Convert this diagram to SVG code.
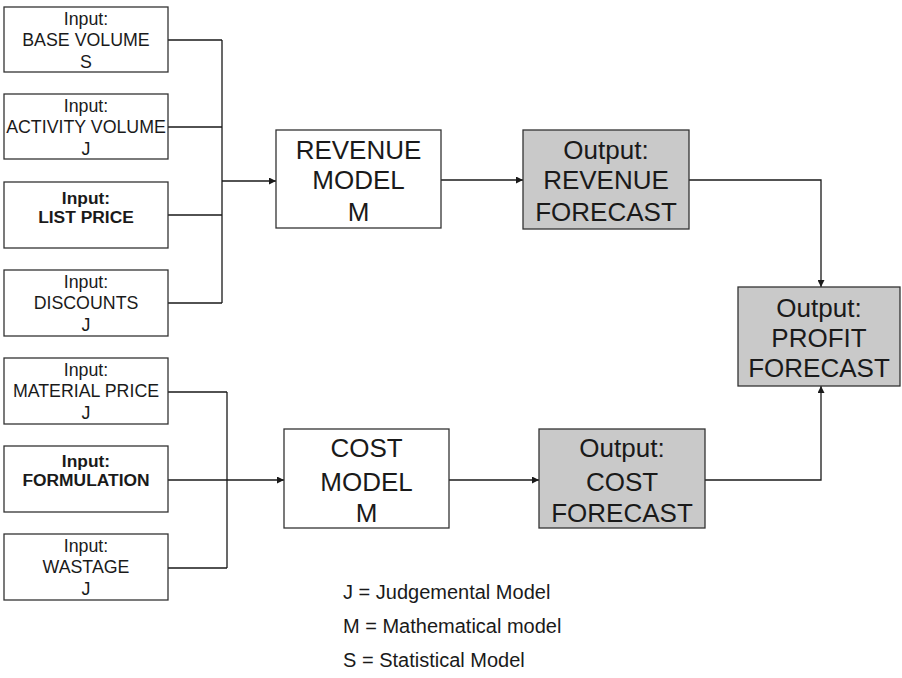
<svg xmlns="http://www.w3.org/2000/svg" width="902" height="678" viewBox="0 0 902 678">
  <style>
    .box { fill: #ffffff; stroke: #333333; stroke-width: 1.3; }
    .out { fill: #c9c9c9; stroke: #333333; stroke-width: 1.3; }
    .t { font-family: "Liberation Sans", Arial, sans-serif; fill: #1a1a1a; text-anchor: middle; }
    .sm { font-size: 17.8px; }
    .smb { font-size: 17.4px; font-weight: bold; }
    .lg { font-size: 26px; }
    .leg { font-family: "Liberation Sans", Arial, sans-serif; fill: #1a1a1a; font-size: 20px; }
    .wire { fill: none; stroke: #1a1a1a; stroke-width: 1.3; }
    .arr { marker-end: url(#head); }
  </style>
  <defs>
    <marker id="head" viewBox="0 0 10 10" refX="10" refY="5" markerWidth="9" markerHeight="7" markerUnits="userSpaceOnUse" orient="auto">
      <path d="M0,0 L10,5 L0,10 Z" fill="#1a1a1a"/>
    </marker>
  </defs>

  <g id="connectors">
    <!-- revenue inputs bus -->
    <path class="wire" d="M168,40 H222 M168,127 H222 M168,215 H222 M168,303 H222 M222,40 V303"/>
    <path class="wire arr" d="M222,181 H276" stroke-width="1.6"/>
    <!-- cost inputs bus -->
    <path class="wire" d="M168,392 H227 M168,568 H227 M227,392 V568"/>
    <path class="wire arr" d="M168,480 H284" stroke-width="1.4"/>
    <!-- models to outputs -->
    <path class="wire arr" d="M441,180 H523"/>
    <path class="wire arr" d="M449,480 H539"/>
    <!-- outputs to profit -->
    <path class="wire arr" d="M689,180 H821 V287"/>
    <path class="wire arr" d="M705,480 H821 V386"/>
  </g>

  <g id="in-base-volume">
    <rect class="box" x="4" y="7" width="164" height="65"/>
    <text class="t sm" x="86" y="25">Input:</text>
    <text class="t sm" x="86" y="46">BASE VOLUME</text>
    <text class="t sm" x="86" y="68">S</text>
  </g>
  <g id="in-activity-volume">
    <rect class="box" x="4" y="94" width="164" height="65"/>
    <text class="t sm" x="86" y="112">Input:</text>
    <text class="t sm" x="86" y="133">ACTIVITY VOLUME</text>
    <text class="t sm" x="86" y="155">J</text>
  </g>
  <g id="in-list-price">
    <rect class="box" x="4" y="182" width="164" height="66"/>
    <text class="t smb" x="86" y="204">Input:</text>
    <text class="t smb" x="86" y="223">LIST PRICE</text>
  </g>
  <g id="in-discounts">
    <rect class="box" x="4" y="270" width="164" height="66"/>
    <text class="t sm" x="86" y="288">Input:</text>
    <text class="t sm" x="86" y="309">DISCOUNTS</text>
    <text class="t sm" x="86" y="331">J</text>
  </g>
  <g id="in-material-price">
    <rect class="box" x="4" y="358" width="164" height="66"/>
    <text class="t sm" x="86" y="376">Input:</text>
    <text class="t sm" x="86" y="397">MATERIAL PRICE</text>
    <text class="t sm" x="86" y="419">J</text>
  </g>
  <g id="in-formulation">
    <rect class="box" x="4" y="446" width="164" height="66"/>
    <text class="t smb" x="86" y="467">Input:</text>
    <text class="t smb" x="86" y="486">FORMULATION</text>
  </g>
  <g id="in-wastage">
    <rect class="box" x="4" y="534" width="164" height="66"/>
    <text class="t sm" x="86" y="552">Input:</text>
    <text class="t sm" x="86" y="573">WASTAGE</text>
    <text class="t sm" x="86" y="595">J</text>
  </g>

  <g id="revenue-model">
    <rect class="box" x="276" y="130" width="165" height="98"/>
    <text class="t lg" x="358.5" y="159">REVENUE</text>
    <text class="t lg" x="358.5" y="189">MODEL</text>
    <text class="t lg" x="358.5" y="221">M</text>
  </g>
  <g id="revenue-forecast">
    <rect class="out" x="523" y="130" width="166" height="99"/>
    <text class="t lg" x="606" y="159">Output:</text>
    <text class="t lg" x="606" y="189">REVENUE</text>
    <text class="t lg" x="606" y="221">FORECAST</text>
  </g>
  <g id="profit-forecast">
    <rect class="out" x="738" y="287" width="162" height="99"/>
    <text class="t lg" x="819" y="317">Output:</text>
    <text class="t lg" x="819" y="347">PROFIT</text>
    <text class="t lg" x="819" y="377">FORECAST</text>
  </g>
  <g id="cost-model">
    <rect class="box" x="284" y="429" width="165" height="99"/>
    <text class="t lg" x="366.5" y="457">COST</text>
    <text class="t lg" x="366.5" y="491">MODEL</text>
    <text class="t lg" x="366.5" y="522">M</text>
  </g>
  <g id="cost-forecast">
    <rect class="out" x="539" y="429" width="166" height="99"/>
    <text class="t lg" x="622" y="457">Output:</text>
    <text class="t lg" x="622" y="491">COST</text>
    <text class="t lg" x="622" y="522">FORECAST</text>
  </g>

  <g id="legend">
    <text class="leg" x="343" y="599">J = Judgemental Model</text>
    <text class="leg" x="343" y="633">M = Mathematical model</text>
    <text class="leg" x="343" y="667">S = Statistical Model</text>
  </g>
</svg>
